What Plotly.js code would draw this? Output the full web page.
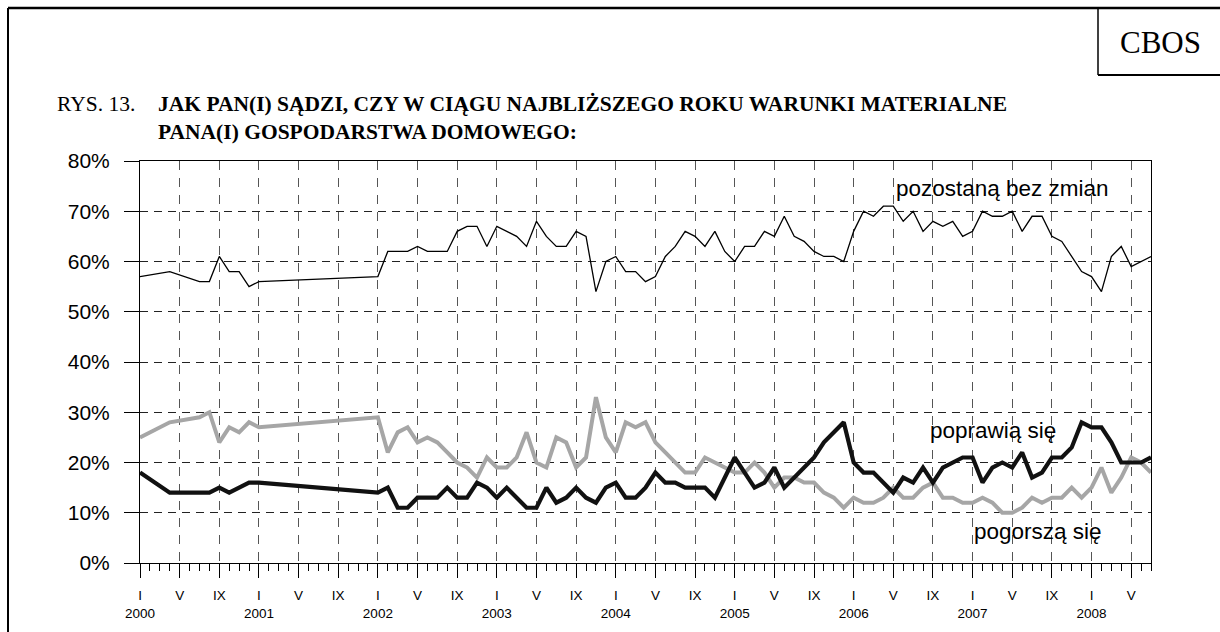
<!DOCTYPE html>
<html>
<head>
<meta charset="utf-8">
<script src="https://cdn.plot.ly/plotly-3.0.1.min.js"></script>
<style>
  body { margin: 0; background: #fff; }
  #wykres { width: 1220px; height: 632px; }
</style>
</head>
<body>
<div id="wykres"></div>
<script>
// Badania (rok-miesiąc)
const badania = [
    "2000-01", "2000-04", "2000-07", "2000-08", "2000-09", "2000-10", "2000-11", "2000-12",
    "2001-01",
    "2002-01", "2002-02", "2002-03", "2002-04", "2002-05", "2002-06", "2002-07", "2002-08", "2002-09", "2002-10", "2002-11", "2002-12",
    "2003-01", "2003-02", "2003-03", "2003-04", "2003-05", "2003-06", "2003-07", "2003-08", "2003-09", "2003-10", "2003-11", "2003-12",
    "2004-01", "2004-02", "2004-03", "2004-04", "2004-05", "2004-06", "2004-07", "2004-08", "2004-09", "2004-10", "2004-11", "2004-12",
    "2005-01", "2005-02", "2005-03", "2005-04", "2005-05", "2005-06", "2005-07", "2005-08", "2005-09", "2005-10", "2005-11", "2005-12",
    "2006-01", "2006-02", "2006-03", "2006-04", "2006-05", "2006-06", "2006-07", "2006-08", "2006-09", "2006-10", "2006-11", "2006-12",
    "2007-01", "2007-02", "2007-03", "2007-04", "2007-05", "2007-06", "2007-07", "2007-08", "2007-09", "2007-10", "2007-11", "2007-12",
    "2008-01", "2008-02", "2008-03", "2008-04", "2008-05", "2008-06", "2008-07"
];

// Odpowiedzi w %
const bezZmian = [
    57, 58, 56, 56, 61, 58, 58, 55,
    56,
    57, 62, 62, 62, 63, 62, 62, 62, 66, 67, 67, 63,
    67, 66, 65, 63, 68, 65, 63, 63, 66, 65, 54, 60,
    61, 58, 58, 56, 57, 61, 63, 66, 65, 63, 66, 62,
    60, 63, 63, 66, 65, 69, 65, 64, 62, 61, 61, 60,
    66, 70, 69, 71, 71, 68, 70, 66, 68, 67, 68, 65,
    66, 70, 69, 69, 70, 66, 69, 69, 65, 64, 61, 58,
    57, 54, 61, 63, 59, 60, 61
];
const poprawia = [
    18, 14, 14, 14, 15, 14, 15, 16,
    16,
    14, 15, 11, 11, 13, 13, 13, 15, 13, 13, 16, 15,
    13, 15, 13, 11, 11, 15, 12, 13, 15, 13, 12, 15,
    16, 13, 13, 15, 18, 16, 16, 15, 15, 15, 13, 17,
    21, 18, 15, 16, 19, 15, 17, 19, 21, 24, 26, 28,
    20, 18, 18, 16, 14, 17, 16, 19, 16, 19, 20, 21,
    21, 16, 19, 20, 19, 22, 17, 18, 21, 21, 23, 28,
    27, 27, 24, 20, 20, 20, 21
];
const pogorsza = [
    25, 28, 29, 30, 24, 27, 26, 28,
    27,
    29, 22, 26, 27, 24, 25, 24, 22, 20, 19, 17, 21,
    19, 19, 21, 26, 20, 19, 25, 24, 19, 21, 33, 25,
    22, 28, 27, 28, 24, 22, 20, 18, 18, 21, 20, 19,
    18, 18, 20, 18, 15, 17, 17, 16, 16, 14, 13, 11,
    13, 12, 12, 13, 15, 13, 13, 15, 16, 13, 13, 12,
    12, 13, 12, 10, 10, 11, 13, 12, 13, 13, 15, 13,
    15, 19, 14, 17, 21, 20, 18
];

const lata = [2000, 2001, 2002, 2003, 2004, 2005, 2006, 2007, 2008];
const miesiaceRzym = ["I", "V", "IX"];

// numer miesiąca liczony od stycznia 2000
const nrMiesiaca = s => (parseInt(s.slice(0, 4)) - 2000) * 12 + parseInt(s.slice(5, 7)) - 1;
const x = badania.map(nrMiesiaca);

const tickvals = [];
const ticktext = [];
lata.forEach((rok, i) => {
    miesiaceRzym.forEach((m, j) => {
        tickvals.push(i * 12 + j * 4);
        ticktext.push(j === 0 ? m + "<br>" + rok : m);
    });
});

// marginesy i przeliczanie pikseli na współrzędne "paper"
const M = { l: 140, r: 69, t: 161, b: 69 };
const W = 1220 - M.l - M.r;
const H = 632 - M.t - M.b;
const px = v => (v - M.l) / W;
const py = v => (632 - M.b - v) / H;

const sans = "Liberation Sans, Arial, sans-serif";
const serif = "Liberation Serif, Times New Roman, serif";

const dane = [
    { x: x, y: pogorsza, mode: "lines", name: "pogorszą się",
      line: { color: "#a6a6a6", width: 4 } },
    { x: x, y: poprawia, mode: "lines", name: "poprawią się",
      line: { color: "#111111", width: 4.2 } },
    { x: x, y: bezZmian, mode: "lines", name: "pozostaną bez zmian",
      line: { color: "#000000", width: 1.3 } }
];

const linia = (x0, y0, x1, y1, w) => ({
    type: "line", xref: "paper", yref: "paper",
    x0: px(x0), y0: py(y0), x1: px(x1), y1: py(y1),
    line: { color: "#000", width: w }
});

const uklad = {
    width: 1220, height: 632,
    margin: M,
    paper_bgcolor: "#fff", plot_bgcolor: "#fff",
    showlegend: false,
    xaxis: {
        range: [0, 102],
        tickmode: "array", tickvals: tickvals, ticktext: ticktext,
        ticks: "outside", ticklen: 14, tickcolor: "#000", tickwidth: 1,
        ticklabelstandoff: 6,
        tickfont: { family: sans, size: 13.5, color: "#000" },
        showline: true, linecolor: "#000", linewidth: 1, mirror: true,
        showgrid: true, gridcolor: "#555", gridwidth: 1, griddash: "9px,8px",
        zeroline: false,
        minor: { tick0: 0, dtick: 1, ticks: "outside", ticklen: 7, tickcolor: "#000", showgrid: false }
    },
    yaxis: {
        range: [0, 80], dtick: 10, ticksuffix: "%",
        ticks: "outside", ticklen: 15, tickcolor: "#000",
        ticklabelstandoff: 10,
        tickfont: { family: sans, size: 21, color: "#000" },
        showline: true, linecolor: "#000", linewidth: 1, mirror: true,
        showgrid: true, gridcolor: "#222", gridwidth: 1, griddash: "8px,6px",
        zeroline: false
    },
    shapes: [
        linia(8, 8, 8, 640, 2),
        linia(8, 8, 1230, 8, 2.5),
        linia(1098, 8, 1098, 75, 1.5),
        linia(1098, 75, 1230, 75, 2)
    ],
    annotations: [
        { text: "CBOS", x: px(1160), y: py(42), xanchor: "center", yanchor: "middle",
          font: { family: serif, size: 31, color: "#000" } },
        { text: "RYS. 13.", x: px(55), y: py(104), xanchor: "left", yanchor: "middle",
          font: { family: serif, size: 21.5, color: "#000" } },
        { text: "<b>JAK PAN(I) SĄDZI, CZY W CIĄGU NAJBLIŻSZEGO ROKU WARUNKI MATERIALNE<br>PANA(I) GOSPODARSTWA DOMOWEGO:</b>",
          x: px(156), y: py(118), xanchor: "left", yanchor: "middle", align: "left",
          font: { family: serif, size: 21.5, color: "#000" } },
        { text: "pozostaną bez zmian", x: px(1002), y: py(188), xanchor: "center", yanchor: "middle",
          font: { family: sans, size: 22.5, color: "#000" } },
        { text: "poprawią się", x: px(993), y: py(430), xanchor: "center", yanchor: "middle",
          font: { family: sans, size: 22.5, color: "#000" } },
        { text: "pogorszą się", x: px(1038), y: py(531), xanchor: "center", yanchor: "middle",
          font: { family: sans, size: 22.5, color: "#000" } }
    ].map(a => Object.assign({ xref: "paper", yref: "paper", showarrow: false }, a))
};

Plotly.newPlot("wykres", dane, uklad, { staticPlot: true });
</script>
</body>
</html>
